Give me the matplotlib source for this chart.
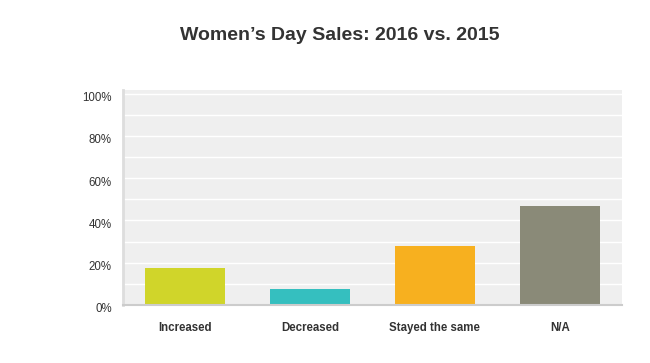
import numpy as np
import matplotlib.pyplot as plt
import matplotlib.transforms as mtransforms

plt.rcParams['font.family'] = ['Liberation Sans', 'DejaVu Sans']

categories = ['Increased', 'Decreased', 'Stayed the same', 'N/A']
values = [17.6, 7.6, 27.9, 46.8]
colors = ['#d0d52a', '#35bfbf', '#f7b01f', '#8a8a78']

fig = plt.figure(figsize=(6.5, 3.63), dpi=100)
ax = fig.add_axes([0.189, 0.160, 0.768, 0.592])
ax.set_facecolor('#efefef')

x = np.arange(len(categories))
ax.bar(x, values, width=0.64, color=colors, zorder=3)

ax.set_xlim(-0.5, 3.5)
ax.set_ylim(0, 101.7)
ax.set_yticks(np.arange(0, 101, 10), minor=True)
ax.set_yticks([0, 20, 40, 60, 80, 100])
ax.set_yticklabels(['%d%%' % v for v in [0, 20, 40, 60, 80, 100]], fontsize=8.3, color='#333333')
ax.grid(axis='y', which='both', color='white', linewidth=1.0, zorder=1)
ax.tick_params(axis='y', which='both', length=0, pad=8)
# shift y labels down a little like the original
offset = mtransforms.ScaledTranslation(0, -3 / 100, fig.dpi_scale_trans)
for lbl in ax.get_yticklabels():
    lbl.set_transform(lbl.get_transform() + offset)
ax.set_xticks(x)
ax.set_xticklabels(categories, fontsize=8.3, fontweight='bold', color='#333333')
ax.tick_params(axis='x', length=0, pad=12)

for s in ['top', 'right']:
    ax.spines[s].set_visible(False)
ax.spines['left'].set_color('#dddddd')
ax.spines['left'].set_linewidth(2)
ax.spines['bottom'].set_color('#cccccc')
ax.spines['bottom'].set_linewidth(1.5)
ax.spines['bottom'].set_zorder(4)

fig.text(0.523, 0.903, 'Women\u2019s Day Sales: 2016 vs. 2015', ha='center', va='center',
         fontsize=14, fontweight='bold', color='#333333')

fig.savefig('out.png', dpi=100)
